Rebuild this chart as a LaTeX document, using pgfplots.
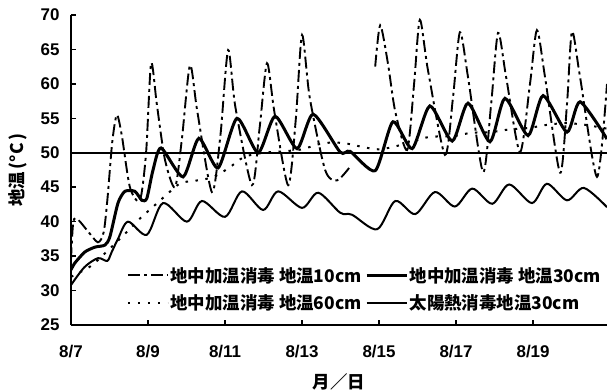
\documentclass[border=0pt]{standalone}
\usepackage{fontspec}
\usepackage{pgfplots}
\usepackage{pgfplotstable}
\pgfplotsset{compat=1.18}
\setmainfont{Liberation Sans}
\newfontfamily\numfont{Liberation Sans Bold}
\newfontfamily\jp{Noto Sans CJK JP}

% x = days since 8/7 0:00, y = soil temperature (deg C)
% 地中加温消毒, 10 cm (gap in the record around 8/14)
\pgfplotstableread{
x y
0.00 34.5
0.06 40.0
0.18 40.3
0.44 38.6
0.70 37.0
0.85 38.5
0.95 43.5
1.07 51.5
1.19 55.5
1.32 52.5
1.53 45.0
1.79 43.1
1.95 50.0
2.08 63.0
2.23 57.0
2.44 49.0
2.70 45.0
2.88 52.0
3.09 62.7
3.28 56.0
3.66 44.3
3.88 52.5
4.08 64.9
4.27 56.6
4.70 45.3
4.90 53.7
5.09 63.0
5.28 56.0
5.64 45.3
5.84 55.0
6.00 67.1
6.20 58.0
6.60 47.5
6.91 46.0
7.25 48.0
7.50 nan
7.90 62.5
8.03 68.5
8.23 63.0
8.42 56.0
8.73 50.4
8.91 60.0
9.06 69.3
9.27 62.0
9.71 49.7
9.92 58.0
10.10 67.5
10.31 61.0
10.70 47.2
10.91 57.0
11.09 67.4
11.30 61.0
11.66 50.1
11.92 60.0
12.10 67.8
12.31 61.0
12.70 47.1
12.88 57.0
13.01 67.6
13.22 61.0
13.66 46.5
13.92 60.0
}\tenCm

% 地中加温消毒, 30 cm
\pgfplotstableread{
x y
0.00 33.0
0.10 34.0
0.36 35.6
0.62 36.3
0.88 36.6
1.01 37.8
1.22 42.7
1.40 44.4
1.66 44.4
1.84 43.1
1.97 43.4
2.13 47.5
2.34 50.7
2.91 46.5
3.32 52.1
3.82 47.8
4.31 55.0
4.86 50.0
5.30 55.3
5.87 50.6
6.29 55.6
6.99 50.1
7.25 50.2
7.90 47.4
8.36 54.5
8.86 50.6
9.32 56.8
9.90 51.7
10.31 57.2
10.88 51.6
11.27 57.9
11.87 52.5
12.26 58.3
12.88 53.0
13.22 57.4
13.92 52.0
}\thirtyCm

% 地中加温消毒, 60 cm
\pgfplotstableread{
x y
0.00 32.0
0.50 33.5
0.90 35.5
1.45 38.5
1.80 40.5
2.10 42.0
2.50 44.0
2.85 45.6
3.30 46.0
3.70 46.5
4.10 47.8
4.50 49.4
5.00 50.0
5.50 50.2
6.00 50.5
6.40 51.2
6.80 51.5
7.20 51.3
7.60 50.8
8.00 50.5
8.40 50.9
8.80 51.5
9.30 52.3
9.90 52.4
10.40 52.9
10.90 53.0
11.40 53.4
11.90 53.6
12.30 54.0
12.80 54.3
13.30 54.1
13.92 53.5
}\sixtyCm

% 太陽熱消毒, 30 cm
\pgfplotstableread{
x y
0.00 30.8
0.35 33.4
0.70 34.7
0.94 34.3
1.05 35.5
1.22 37.5
1.48 40.0
1.97 38.1
2.39 42.7
3.01 40.0
3.40 43.0
4.00 40.7
4.44 44.4
4.99 41.7
5.38 44.4
6.00 42.0
6.42 44.2
6.99 41.3
7.30 41.0
7.95 38.9
8.42 43.0
8.94 41.1
9.45 44.3
9.97 42.2
10.42 44.8
10.94 42.6
11.38 45.4
11.97 42.7
12.36 45.5
12.88 43.1
13.32 44.9
13.92 42.1
}\solar

\begin{document}
\begin{tikzpicture}
\useasboundingbox (0,0) rectangle (607bp,392bp);
\begin{axis}[
  at={(71bp,67bp)}, anchor=south west,
  scale only axis, width=536bp, height=310bp,
  xmin=0, xmax=13.92, ymin=25, ymax=70,
  axis x line*=bottom, axis y line*=left,
  axis line style={-, line width=2.2bp},
  xtick={0,2,...,12},
  xticklabels={8/7,8/9,8/11,8/13,8/15,8/17,8/19},
  ytick={25,30,...,70},
  tick align=inside, major tick length=5bp,
  tick style={line width=1.6bp, black},
  /pgf/number format/assume math mode=true,
  ticklabel style={font=\numfont\fontsize{17}{19}\selectfont},
  xticklabel style={yshift=-17bp},
  yticklabel style={xshift=-8bp},
  ylabel={\jp\bfseries 地温\,(°C\,)},
  ylabel style={at={(axis description cs:-0.099,0.5)}, anchor=center,
    font=\fontsize{17.5}{19}\selectfont},
  xlabel={\jp\bfseries 月／日},
  xlabel style={at={(axis description cs:0.5,-0.184)}, anchor=center,
    font=\fontsize{17.5}{19}\selectfont},
  unbounded coords=jump,
  clip=true,
  legend columns=2,
  legend cell align=left,
  legend image code/.code={\draw[#1] (0bp,0bp) -- (40bp,0bp);},
  legend style={at={(rel axis cs:0.104,0.192)}, anchor=north west,
    draw=none, fill=none, font=\jp\bfseries\fontsize{17.5}{19}\selectfont,
    row sep=8bp, inner sep=0bp,
    nodes={inner sep=1.5bp},
    /tikz/every even column/.append style={column sep=2bp}},
]
\addplot[black, line width=1.9bp, smooth, tension=0.45,
  dash pattern=on 12bp off 4bp on 3bp off 4bp] table {\tenCm};
\addlegendentry{地中加温消毒 地温10cm}
\addplot[black, line width=3bp, smooth, tension=0.4] table {\thirtyCm};
\addlegendentry{地中加温消毒 地温30cm}
\addplot[black, line width=2bp, smooth, tension=0.5,
  dash pattern=on 2.5bp off 7.5bp] table {\sixtyCm};
\addlegendentry{地中加温消毒 地温60cm}
\addplot[black, line width=2bp, smooth, tension=0.5] table {\solar};
\addlegendentry{太陽熱消毒地温30cm}
% 50 degC reference line
\addplot[black, line width=2bp, forget plot] coordinates {(0,50) (13.92,50)};
\end{axis}
\end{tikzpicture}
\end{document}
